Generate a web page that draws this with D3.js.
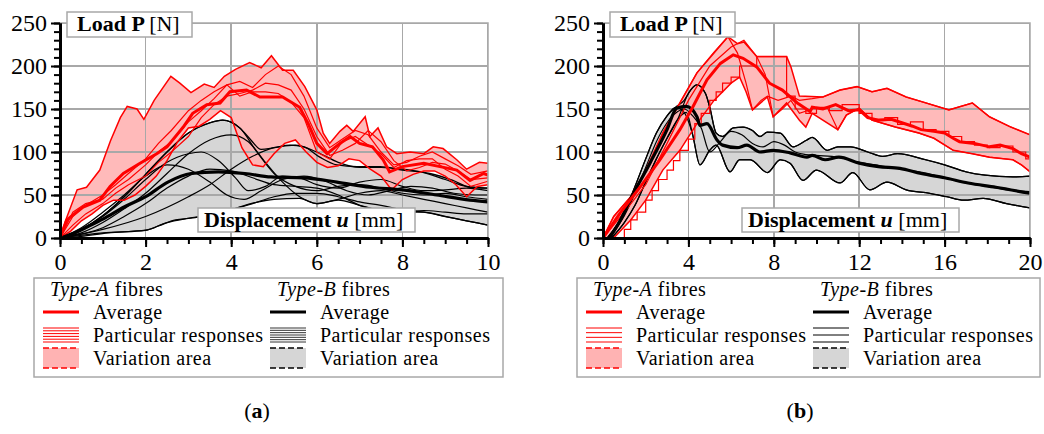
<!DOCTYPE html>
<html>
<head>
<meta charset="utf-8">
<title>Load - displacement</title>
<script src="https://cdnjs.cloudflare.com/ajax/libs/d3/7.8.5/d3.min.js"></script>
<style>
body { margin: 0; background: #fff; }
svg text { font-family: 'Liberation Serif', 'DejaVu Serif', serif; fill: #000; }
.grid line { stroke: #a8a8a8; stroke-width: 1.5px; shape-rendering: crispEdges; }
.axis path, .axis line { stroke: #000; }
.axis path { stroke-width: 3px; }
.axis line { stroke-width: 2px; }
.leg { letter-spacing: 0.5px; }
</style>
</head>
<body>
<svg id="chart" width="1044" height="434"></svg>
<script>
// ---- data, panel (a): displacement u [mm], load P [N] ----
var aAvgA = [[0,0],[0.16,21],[0.54,36],[0.93,44],[1.17,60],[1.48,75],[1.87,87],[2.26,98],[2.5,106],[2.88,129],[3.1,145],[3.43,155],[3.74,157],[3.97,170],[4.36,172],[4.67,164],[4.9,164],[5.2,164],[5.6,152],[5.8,133],[6.0,110],[6.24,98],[6.54,110],[6.78,118],[7.0,110],[7.3,106],[7.55,91],[7.7,77],[8.0,83],[8.5,87],[8.88,83],[9.27,79],[9.58,67],[9.9,75],[10,73]];
var aHiA = [[0,0],[0.12,19],[0.4,56],[0.62,59],[0.93,79],[1.18,113],[1.41,140],[1.57,153],[1.8,150],[1.96,138],[2.2,160],[2.59,188],[2.8,180],[3.06,169],[3.37,179],[3.6,175],[3.84,188],[4.1,196],[4.43,204],[4.7,198],[4.94,212],[5.2,195],[5.45,195],[5.72,176],[6.0,149],[6.15,122],[6.3,110],[6.54,124],[6.7,131],[6.85,124],[7.13,141],[7.24,118],[7.43,128],[7.63,106],[7.87,98],[8.18,100],[8.5,98],[8.72,106],[8.95,104],[9.27,91],[9.5,80],[9.8,88],[10,87]];
var aLoA = [[0,0],[0.25,8],[0.5,20],[0.75,28],[1.0,38],[1.25,44],[1.5,44],[1.75,50],[2.0,60],[2.25,72],[2.5,90],[2.75,112],[3.0,128],[3.25,130],[3.5,138],[3.75,148],[4.0,140],[4.25,105],[4.5,85],[4.75,83],[5.0,98],[5.25,110],[5.5,114],[5.75,100],[6.0,88],[6.25,82],[6.5,84],[6.75,92],[7.0,90],[7.25,80],[7.5,72],[7.75,56],[8.0,68],[8.25,74],[8.5,78],[8.75,78],[9.0,72],[9.25,62],[9.5,48],[9.75,60],[10,62]];
var aRA1 = [[0,0],[0.3,25],[0.6,38],[1,50],[1.3,62],[1.6,75],[2,92],[2.3,110],[2.6,125],[3,148],[3.3,160],[3.6,170],[3.9,178],[4.2,182],[4.5,175],[4.8,190],[5.1,200],[5.4,190],[5.7,165],[6,128],[6.3,105],[6.6,115],[6.9,125],[7.2,120],[7.5,100],[7.8,85],[8.1,88],[8.4,95],[8.7,100],[9,92],[9.3,84],[9.6,74],[10,78]];
var aRA2 = [[0,0],[0.3,15],[0.6,28],[1,40],[1.3,52],[1.6,62],[2,72],[2.3,88],[2.6,100],[3,118],[3.3,140],[3.6,155],[3.9,165],[4.2,168],[4.5,172],[4.8,180],[5.1,178],[5.4,172],[5.7,150],[6,118],[6.3,96],[6.6,102],[6.9,110],[7.2,125],[7.5,112],[7.8,90],[8.1,78],[8.4,82],[8.7,88],[9,86],[9.3,78],[9.6,68],[10,70]];
var aRA3 = [[0,0],[0.3,30],[0.6,40],[1,45],[1.3,58],[1.6,68],[2,85],[2.3,100],[2.6,112],[3,135],[3.3,148],[3.6,162],[3.9,178],[4.2,165],[4.5,170],[4.8,170],[5.1,168],[5.4,158],[5.7,140],[6,100],[6.3,92],[6.6,112],[6.9,118],[7.2,108],[7.5,98],[7.8,82],[8.1,90],[8.4,92],[8.7,92],[9,80],[9.3,72],[9.6,60],[10,66]];

var aAvgB = [[0,0],[0.3,5],[0.72,15],[1.0,22],[1.5,36],[2,48],[2.52,65],[3.06,75],[3.7,77],[4.32,75],[4.93,71],[5.7,70],[6.47,65],[7.24,59],[8.0,56],[8.8,50],[9.58,44],[10,42]];
var aHiB = [[0,0],[0.5,10],[1,26],[1.5,48],[2,74],[2.5,100],[3,122],[3.5,134],[3.8,137],[4.2,128],[4.46,114],[4.7,103],[5,105],[5.37,108],[5.7,106],[6.07,94],[6.47,85],[6.94,83],[7.48,83],[8.0,79],[8.64,75],[9.18,67],[9.58,59],[10,58]];
var aLoB = [[0,0],[0.5,2],[1.12,6],[2,9],[2.3,14],[2.7,21],[3.06,23],[3.5,27],[4,33],[4.46,40],[5,45],[5.6,46],[6,40],[6.5,44],[7,38],[7.5,32],[8,30],[8.5,30],[9,25],[9.5,20],[10,15]];
var aRB1 = [[0,0],[0.5,10],[1,26],[1.5,48],[2,74],[2.5,100],[3,122],[3.5,134],[3.8,137],[4.2,128],[4.6,100],[5,75],[5.5,60],[6,55],[6.5,60],[7,62],[7.5,58],[8,52],[8.5,50],[9,52],[9.5,48],[10,45]];
var aRB2 = [[0,0],[0.5,6],[1,18],[1.5,34],[2,52],[2.5,75],[3,98],[3.5,114],[4,120],[4.4,112],[4.8,88],[5.2,65],[5.6,48],[6,40],[6.5,45],[7,52],[7.5,55],[8,50],[8.5,45],[9,40],[9.5,35],[10,30]];
var aRB3 = [[0,0],[0.5,10],[1,25],[1.5,45],[2,68],[2.5,88],[3,98],[3.3,100],[3.7,90],[4.1,70],[4.4,55],[4.8,60],[5.2,72],[5.6,70],[6,62],[6.5,58],[7,65],[7.5,68],[8,60],[8.5,55],[9,56],[9.5,58],[10,55]];
var aRB4 = [[0,0],[0.5,12],[1,30],[1.5,50],[2,72],[2.5,85],[3,80],[3.5,65],[3.9,50],[4.3,45],[4.7,55],[5.2,68],[5.7,72],[6.2,66],[6.7,55],[7.2,50],[7.7,55],[8.2,60],[8.7,58],[9.2,52],[9.7,50],[10,50]];
var aRB5 = [[0,0],[1,10],[2,25],[3,48],[3.5,62],[4,80],[4.5,95],[5,105],[5.5,108],[6,100],[6.5,88],[7,82],[7.5,82],[8,80],[8.5,76],[9,68],[9.5,60],[10,58]];
var aRB6 = [[0,0],[1,6],[2,9],[2.5,18],[3,23],[3.5,27],[4,33],[4.5,40],[5,48],[5.5,52],[6,52],[6.5,48],[7,42],[7.5,38],[8,33],[8.5,30],[9,25],[9.5,20],[10,15]];
var aRB7 = [[0,0],[1,12],[1.5,25],[2,40],[2.5,58],[3,72],[3.5,80],[4,78],[4.5,70],[5,62],[5.5,60],[6,58],[6.5,50],[7,38],[7.5,32],[8,30],[8.5,32],[9,30],[9.5,28],[10,28]];

// ---- data, panel (b) ----
var bAvgA = [[0,0],[0.8,29],[1.73,59],[2.67,91],[3.6,126],[4.2,152],[4.87,184],[5.5,203],[6.1,213],[6.56,209],[7.2,199],[7.8,180],[8.4,172],[9.1,157],[9.7,147],[9.8,152],[10.3,150],[10.9,155],[11.5,148],[12,149],[12.4,140],[12.9,137],[13.5,138],[14,134],[14.5,130],[14.9,126],[15.5,124],[16,122],[16.4,116],[16.7,112],[17.4,110],[18.1,106],[18.6,108],[19.2,104],[19.6,98],[20,94]];
var bHiA = [[0,0],[0.5,25],[1.3,48],[2,79],[2.8,122],[3.6,157],[4.4,192],[5.2,215],[5.85,234],[6.3,226],[6.6,228],[7.2,211],[8.6,211],[8.8,199],[9.2,165],[10.3,164],[11.1,172],[11.9,176],[12.6,170],[13.3,174],[14.2,164],[15,158],[16.2,149],[17.3,157],[18.1,141],[19.1,129],[20,120]];
var bLoA = [[0,0],[0.5,0],[1.3,21],[2,44],[2.8,79],[3.6,102],[4.4,133],[5.2,160],[6,180],[6.4,187],[6.7,170],[7.0,149],[7.7,164],[7.97,141],[8.6,157],[9.2,137],[9.5,129],[9.8,145],[11,126],[11.4,143],[12,151],[12.6,137],[13.7,129],[14.8,122],[15.5,116],[16.4,102],[17.3,98],[18.1,94],[19.2,91],[19.6,85],[20,77]];
var bRA1 = [[0,0],[0.5,25],[1.3,48],[2,77],[2.8,122],[3.6,157],[4.4,192],[5.2,216],[5.85,234],[6.3,215],[6.7,180],[7.0,149],[7.4,160],[7.7,165],[8.2,160],[8.8,165],[9.2,160],[9.8,162],[10.3,164],[11.1,172],[11.9,176],[12.6,170],[13.3,174],[14.2,164],[15,158],[16.2,149],[17.3,157],[18.1,141],[19.1,129],[20,120]];
var bRA2 = [[0,0],[1,30],[2,62],[3,110],[4,160],[5,200],[6,222],[6.6,230],[7.2,211],[7.6,190],[7.97,141],[8.4,150],[8.8,160],[9.2,145],[9.8,150],[10.5,152],[11,126],[11.4,143],[12,151],[12.6,137],[13.7,129],[14.8,122],[15.5,116],[16.4,102],[17.3,98],[18.1,94],[19.2,91],[19.6,85],[20,77]];
var bRA3 = [[0.5,0],[1.0,10],[1.3,21],[1.6,30],[2.0,44],[2.3,55],[2.6,68],[3.0,79],[3.3,90],[3.6,102],[4.0,115],[4.3,133],[4.6,145],[5.0,160],[5.3,170],[5.6,180],[6.0,187],[6.4,200],[7.2,211],[8.6,165],[9.0,150],[9.5,145],[10,152],[10.6,148],[11.2,155],[12,145],[12.6,138],[13.2,140],[13.8,132],[14.4,135],[15,126],[15.6,124],[16.2,118],[16.8,112],[17.4,108],[18,105],[18.6,107],[19.2,100],[19.8,92],[20,92]];

var bAvgB = [[0.3,0],[0.8,20],[1.26,44],[2.2,87],[3.0,126],[3.45,151],[3.9,153],[4.4,141],[4.54,131],[4.87,133],[5.34,114],[5.6,108],[6.28,105],[6.74,108],[7.35,100],[7.97,102],[8.76,99],[9.55,94],[9.8,96],[10.4,91],[11.05,94],[12,87],[12.9,83],[13.9,81],[14.9,75],[16,70],[17.1,64],[18.4,59],[20,52]];
var bHiB = [[0.2,0],[1,30],[1.5,60],[2,92],[2.5,122],[3,142],[3.4,152],[3.8,160],[4.1,172],[4.4,178],[4.8,168],[5.0,152],[5.3,122],[5.6,118],[6.1,128],[6.56,129],[7.0,125],[7.35,118],[7.7,123],[8.3,122],[8.9,106],[9.55,114],[9.8,117],[10.5,102],[11.0,106],[11.6,106],[12.4,100],[13.1,95],[13.8,98],[15.1,91],[16,85],[17,77],[17.9,73],[19.2,71],[20,72]];
var bLoB = [[0.4,0],[1,18],[1.5,38],[2,65],[2.5,92],[3,116],[3.5,138],[3.9,146],[4.2,120],[4.54,85],[5.0,102],[5.3,108],[5.95,77],[6.4,91],[6.9,91],[7.7,76],[8.3,91],[8.76,87],[9.37,67],[10,79],[11.1,64],[11.7,76],[12.5,56],[13.3,65],[14.2,56],[15.3,52],[16.1,48],[16.9,44],[17.8,46],[18.9,40],[20,35]];
var bRB1 = [[0.2,0],[1,30],[1.5,60],[2,92],[2.5,122],[3,142],[3.4,152],[3.8,146],[4.2,120],[4.54,85],[5.0,102],[5.3,108],[5.95,77],[6.4,91],[6.9,91],[7.7,76],[8.3,91],[8.76,87],[9.37,67],[10,79],[11.1,64],[11.7,76],[12.5,56],[13.3,65],[14.2,56],[15.3,52],[16.1,48],[16.9,44],[17.8,46],[18.9,40],[20,35]];
var bRB2 = [[0.4,0],[1,18],[1.5,38],[2,65],[2.5,92],[3,116],[3.5,138],[4,168],[4.4,178],[4.8,168],[5.0,152],[5.3,122],[5.6,118],[6.1,128],[6.56,129],[7.0,125],[7.35,118],[7.7,123],[8.3,122],[8.9,106],[9.55,114],[9.8,117],[10.5,102],[11.0,106],[11.6,106],[12.4,100],[13.1,95],[13.8,98],[15.1,91],[16,85],[17,77],[17.9,73],[19.2,71],[20,72]];
var bRB3 = [[0.3,0],[1,26],[1.5,52],[2,82],[2.5,112],[3,134],[3.5,147],[3.8,150],[4.2,142],[4.6,128],[5,100],[5.5,112],[6,124],[6.5,120],[7,110],[7.5,106],[8,112],[8.5,108],[9,100],[9.5,97],[10,96],[11,94],[12,88],[13,84],[14,80],[15,76],[16,70],[17,64],[18,60],[19,56],[20,54]];

// ticks and texts
var yMajor = [0, 50, 100, 150, 200, 250];
var aXMajor = [0, 2, 4, 6, 8, 10];
var bXMajor = [0, 4, 8, 12, 16, 20];
var legendRows = ["Average", "Particular responses", "Variation area"];

var svg = d3.select("#chart");
var red = "#ff0000", pink = "#ffb3b3", grey = "#d6d6d6";

function panel(c) {
	var x = d3.scaleLinear().domain([0, c.xmax]).range([c.left, c.right]);
	var y = d3.scaleLinear().domain([0, 250]).range([238, 23]);
	var g = svg.append("g");

	g.append("clipPath").attr("id", "clip" + c.id)
		.append("rect").attr("x", c.left).attr("y", 23)
		.attr("width", c.right - c.left).attr("height", 215);

	var plot = g.append("g").attr("clip-path", "url(#clip" + c.id + ")");

	var band = d3.area().x(d => x(d[0])).y0(d => y(d[1])).y1(d => y(d[2]));
	function merge(hi, lo) {
		// common x positions of both limits
		var xs = Array.from(new Set(hi.map(d => d[0]).concat(lo.map(d => d[0])))).sort((a, b) => a - b);
		var fh = d3.scaleLinear().domain(hi.map(d => d[0])).range(hi.map(d => d[1]));
		var fl = d3.scaleLinear().domain(lo.map(d => d[0])).range(lo.map(d => d[1]));
		return xs.map(v => [v, fl(v), fh(v)]);
	}

	plot.append("path").attr("d", band.curve(c.bCurve)(merge(c.hiB, c.loB))).attr("fill", grey);
	plot.append("path").attr("d", band.curve(d3.curveLinear)(merge(c.hiA, c.loA))).attr("fill", pink).attr("fill-opacity", 0.9);

	// grid
	var grid = plot.append("g").attr("class", "grid");
	grid.selectAll("line.v").data(c.xMajor.slice(1)).enter().append("line")
		.attr("x1", d => x(d)).attr("x2", d => x(d)).attr("y1", 23).attr("y2", 238);
	grid.selectAll("line.h").data(yMajor.slice(1)).enter().append("line")
		.attr("x1", c.left).attr("x2", c.right).attr("y1", d => y(d)).attr("y2", d => y(d));

	var lineB = d3.line().x(d => x(d[0])).y(d => y(d[1])).curve(c.bCurve);
	var lineA = d3.line().x(d => x(d[0])).y(d => y(d[1]));

	c.partB.forEach(function(s) {
		plot.append("path").attr("d", lineB(s)).attr("fill", "none").attr("stroke", "#000").attr("stroke-width", 1.2);
	});
	[c.hiB, c.loB].forEach(function(s) {
		plot.append("path").attr("d", lineB(s)).attr("fill", "none").attr("stroke", "#000").attr("stroke-width", 1.3);
	});
	c.partA.forEach(function(s, i) {
		var ln = d3.line().x(d => x(d[0])).y(d => y(d[1])).curve(c.stepA && i === c.stepA ? d3.curveStepAfter : d3.curveLinear);
		plot.append("path").attr("d", ln(s)).attr("fill", "none").attr("stroke", red).attr("stroke-width", 1.2);
	});
	[c.hiA, c.loA].forEach(function(s) {
		plot.append("path").attr("d", lineA(s)).attr("fill", "none").attr("stroke", red).attr("stroke-width", 1.5);
	});
	plot.append("path").attr("d", lineB(c.avgB)).attr("fill", "none").attr("stroke", "#000").attr("stroke-width", 3.2);
	plot.append("path").attr("d", lineA(c.avgA)).attr("fill", "none").attr("stroke", red).attr("stroke-width", 3);

	// frame
	g.append("path").attr("d", "M" + c.left + ",23H" + c.right + "V238")
		.attr("fill", "none").attr("stroke", "#a8a8a8").attr("stroke-width", 1.5);

	// axes
	var ya = g.append("g").attr("class", "axis").attr("transform", "translate(" + c.left + ",0)");
	ya.call(d3.axisLeft(y).tickValues(d3.range(0, 251, 10)).tickSize(6).tickFormat("").tickSizeOuter(0));
	var yb = g.append("g").attr("class", "axis").attr("transform", "translate(" + c.left + ",0)");
	yb.call(d3.axisLeft(y).tickValues(yMajor).tickSize(9).tickPadding(4).tickSizeOuter(0));
	var xa = g.append("g").attr("class", "axis").attr("transform", "translate(0,238)");
	xa.call(d3.axisBottom(x).tickValues(d3.range(0, c.xmax + 0.01, c.xMinor)).tickSize(6).tickFormat("").tickSizeOuter(0));
	var xb = g.append("g").attr("class", "axis").attr("transform", "translate(0,238)");
	xb.call(d3.axisBottom(x).tickValues(c.xMajor).tickSize(9).tickPadding(6).tickSizeOuter(0));
	g.selectAll(".axis text").attr("font-size", 24).style("font-family", "'Liberation Serif', serif");

	// axis labels in boxes
	g.append("rect").attr("x", c.left + 7).attr("y", 12).attr("width", 125).attr("height", 25)
		.attr("fill", "#fff").attr("stroke", "#a8a8a8").attr("stroke-width", 1.5);
	var t1 = g.append("text").attr("x", c.left + 17).attr("y", 31).attr("font-size", 22);
	t1.append("tspan").attr("font-weight", "bold").text("Load P ");
	t1.append("tspan").text("[N]");

	g.append("rect").attr("x", c.dispX).attr("y", 208).attr("width", 217).attr("height", 24)
		.attr("fill", "#fff").attr("stroke", "#a8a8a8").attr("stroke-width", 1.5);
	var t2 = g.append("text").attr("x", c.dispX + 6).attr("y", 227).attr("font-size", 22);
	t2.append("tspan").attr("font-weight", "bold").text("Displacement ");
	t2.append("tspan").attr("font-weight", "bold").attr("font-style", "italic").text("u");
	t2.append("tspan").text(" [mm]");

	// legend
	g.append("rect").attr("x", c.legX).attr("y", 278).attr("width", c.legW).attr("height", 99)
		.attr("fill", "#fff").attr("stroke", "#a8a8a8").attr("stroke-width", 1.5);
	[["A", red, pink, c.nA, c.symA], ["B", "#000", grey, c.nB, c.symB]].forEach(function(L) {
		var sx = L[4], col = L[1];
		var h = g.append("text").attr("class", "leg").attr("x", sx + 7).attr("y", 296).attr("font-size", 20);
		h.append("tspan").attr("font-style", "italic").text("Type-" + L[0]);
		h.append("tspan").text(" fibres");
		legendRows.forEach(function(r, i) {
			g.append("text").attr("class", "leg").attr("x", sx + 50).attr("y", [319, 342, 365][i]).attr("font-size", 20).text(r);
		});
		g.append("line").attr("x1", sx).attr("x2", sx + 36).attr("y1", 312).attr("y2", 312)
			.attr("stroke", col).attr("stroke-width", 3);
		d3.range(L[3]).forEach(function(k) {
			var yy = 328 + k * 14 / (L[3] - 1);
			g.append("line").attr("x1", sx).attr("x2", sx + 36).attr("y1", yy).attr("y2", yy)
				.attr("stroke", col).attr("stroke-width", L[3] > 6 ? 0.8 : 1);
		});
		g.append("rect").attr("x", sx).attr("y", 348).attr("width", 36).attr("height", 20).attr("fill", L[2]);
		[348, 368].forEach(function(yy) {
			g.append("line").attr("x1", sx).attr("x2", sx + 36).attr("y1", yy).attr("y2", yy)
				.attr("stroke", col).attr("stroke-width", 1.5).attr("stroke-dasharray", "6,3");
		});
	});

	// caption
	var cap = g.append("text").attr("x", c.capX).attr("y", 418).attr("font-size", 22).attr("text-anchor", "middle");
	cap.append("tspan").text("(");
	cap.append("tspan").attr("font-weight", "bold").text(c.id);
	cap.append("tspan").text(")");
}

panel({id: "a", xmax: 10, left: 60, right: 488, xMajor: aXMajor, xMinor: 0.5,
	avgA: aAvgA, hiA: aHiA, loA: aLoA, partA: [aRA1, aRA2, aRA3],
	avgB: aAvgB, hiB: aHiB, loB: aLoB, partB: [aRB1, aRB2, aRB3, aRB4, aRB5, aRB6, aRB7],
	bCurve: d3.curveMonotoneX, dispX: 198, legX: 34, legW: 469, symA: 43, symB: 270, nA: 6, nB: 7, capX: 257});

panel({id: "b", xmax: 20, left: 603, right: 1030, xMajor: bXMajor, xMinor: 1,
	avgA: bAvgA, hiA: bHiA, loA: bLoA, partA: [bRA1, bRA2, bRA3], stepA: 2,
	avgB: bAvgB, hiB: bHiB, loB: bLoB, partB: [bRB1, bRB2, bRB3],
	bCurve: d3.curveMonotoneX, dispX: 742, legX: 577, legW: 463, symA: 586, symB: 813, nA: 4, nB: 3, capX: 800});
</script>
</body>
</html>
